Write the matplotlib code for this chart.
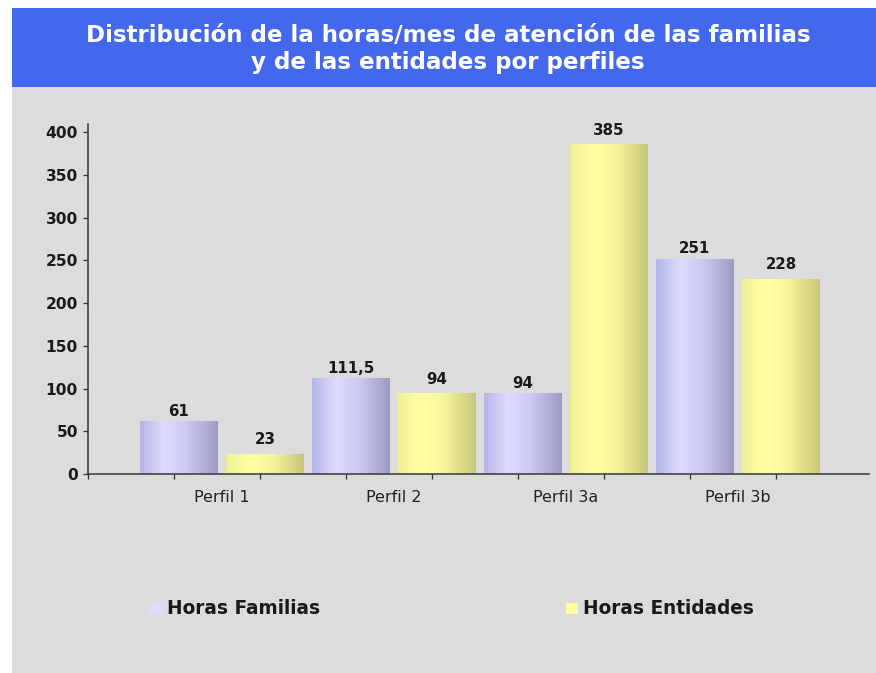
import numpy as np
import matplotlib
matplotlib.use("Agg")
import matplotlib.pyplot as plt
import matplotlib.patches as mpatches

categories = ['Perfil 1', 'Perfil 2', 'Perfil 3a', 'Perfil 3b']
horas_familias = [61, 111.5, 94, 251]
horas_entidades = [23, 94, 385, 228]
series_names = ['Horas Familias', 'Horas Entidades']
yticks = [0, 50, 100, 150, 200, 250, 300, 350, 400]

W, H = 876, 673
DPI = 72
fig = plt.figure(figsize=(W / DPI, H / DPI), dpi=DPI, facecolor='white')

def fx(px):
    return px / W

def fy(py):
    return 1 - py / H

# background panels (behind the axes)
fig.patches.append(mpatches.Rectangle((fx(12), 0), fx(W - 12), fy(87), transform=fig.transFigure,
                                      facecolor='#dcdcdc', edgecolor='none', zorder=-2))
fig.patches.append(mpatches.Rectangle((fx(12), fy(87)), fx(W - 12), fy(8) - fy(87), transform=fig.transFigure,
                                      facecolor='#4368ee', edgecolor='none', zorder=-2))

fig.text(fx(448), fy(35), 'Distribución de la horas/mes de atención de las familias',
         color='white', fontsize=23, fontweight='bold', ha='center', va='center')
fig.text(fx(448), fy(62), 'y de las entidades por perfiles',
         color='white', fontsize=23, fontweight='bold', ha='center', va='center')

ax = fig.add_axes([fx(88), fy(474), fx(869) - fx(88), fy(124) - fy(474)])
ax.set_facecolor('none')

x = np.arange(len(categories))
width = 0.4535
off = 0.25

grad_fam = [(0.0, (180, 180, 230)), (0.3, (220, 220, 255)), (0.6, (202, 202, 245)), (1.0, (155, 155, 196))]
grad_ent = [(0.0, (240, 240, 150)), (0.3, (255, 255, 162)), (0.6, (245, 245, 155)), (1.0, (198, 198, 122))]

def gradient_img(stops):
    t = np.linspace(0, 1, 200)
    pos = [s[0] for s in stops]
    chans = [np.interp(t, pos, [s[1][c] for s in stops]) / 255 for c in range(3)]
    return np.dstack(chans)

def shaded_bars(xs, vals, stops, base):
    bars = ax.bar(xs, vals, width, color=base, edgecolor='none', zorder=2)
    img = gradient_img(stops)
    for b in bars:
        ax.imshow(img, extent=[b.get_x(), b.get_x() + b.get_width(), 0, b.get_height()],
                  aspect='auto', zorder=2.5, interpolation='bilinear')
    return bars

b1 = shaded_bars(x - off, horas_familias, grad_fam, '#dcdcff')
b2 = shaded_bars(x + off, horas_entidades, grad_ent, '#ffffa0')

def fmt(v):
    return f'{v:g}'.replace('.', ',')

for bars, vals, dy in [(b1, horas_familias, 3), (b2, horas_entidades, 7)]:
    for b, v in zip(bars, vals):
        ax.annotate(fmt(v), (b.get_x() + b.get_width() / 2, v), xytext=(0, dy),
                    textcoords='offset points', ha='center', va='bottom',
                    fontsize=15, fontweight='bold', color='#1a1a1a', zorder=4)

xmin, xmax = -0.779, 3.762
ax.set_xlim(xmin, xmax)
ax.set_ylim(0, 409.4)

ax.set_xticks(xmin + 0.5 * np.arange(9))
ax.set_xticklabels([])
ax.set_yticks(yticks)
ax.set_yticklabels([str(t) for t in yticks], fontsize=15.5, fontweight='bold', color='#1a1a1a')
ax.tick_params(axis='both', direction='out', length=5, width=1.3, color='#333333')
ax.tick_params(axis='y', pad=5)

for s in ['top', 'right']:
    ax.spines[s].set_visible(False)
for s in ['left', 'bottom']:
    ax.spines[s].set_color('#333333')
    ax.spines[s].set_linewidth(1.5)

for xi, name in zip(x, categories):
    ax.annotate(name, (xi, 0), xycoords=('data', 'axes fraction'), xytext=(0, -24),
                textcoords='offset points', ha='center', va='center',
                fontsize=16, color='#222222')

# legend
leg_colors = ['#dcdcff', '#ffffa0']
for name, col, px in zip(series_names, leg_colors, [150, 566]):
    fig.patches.append(mpatches.Rectangle((fx(px), fy(614)), fx(12), fy(603) - fy(614),
                                          transform=fig.transFigure, facecolor=col, edgecolor='none'))
    fig.text(fx(px + 17), fy(608), name, fontsize=18.5, fontweight='bold', color='#1a1a1a',
             ha='left', va='center')

fig.savefig('out.png', dpi=DPI, facecolor=fig.get_facecolor())
